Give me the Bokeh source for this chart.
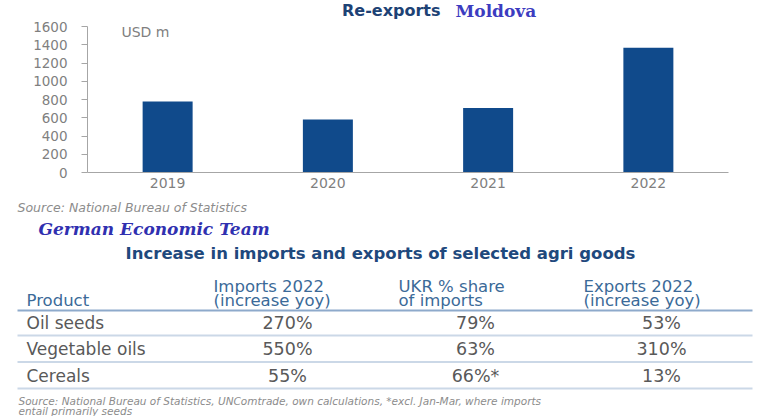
from bokeh.plotting import figure
from bokeh.layouts import column, row
from bokeh.models import Range1d, FactorRange, FixedTicker, ColumnDataSource, Label
from bokeh.core.properties import value
from bokeh.embed import file_html
from bokeh.resources import INLINE

# ---------------- data ----------------
years = ["2019", "2020", "2021", "2022"]
reexports = [778, 580, 708, 1366]
y_ticks = [0, 200, 400, 600, 800, 1000, 1200, 1400, 1600]

title_main = "Re-exports"
title_country = "Moldova"
unit_label = "USD m"
chart_source = "Source: National Bureau of Statistics"
team = "German Economic Team"

table_title = "Increase in imports and exports of selected agri goods"
header_line1 = ["", "Imports 2022", "UKR % share", "Exports 2022"]
header_line2 = ["Product", "(increase yoy)", "of imports", "(increase yoy)"]
products = ["Oil seeds", "Vegetable oils", "Cereals"]
imports_2022 = ["270%", "550%", "55%"]
ukr_share = ["79%", "63%", "66%*"]
exports_2022 = ["53%", "310%", "13%"]
footnote = ["Source: National Bureau of Statistics, UNComtrade, own calculations, *excl. Jan-Mar, where imports",
            "entail primarily seeds"]

# ---------------- layout constants ----------------
W = 768
SANS = value("DejaVu Sans")
SERIF = value("DejaVu Serif")


def blank(height):
    f = figure(width=W, height=height, x_range=Range1d(0, W), y_range=Range1d(height, 0),
               x_axis_type=None, y_axis_type=None, output_backend="svg", toolbar_location=None,
               min_border=0, outline_line_color=None)
    f.grid.visible = False
    return f


# ---- title strip ----
T_H = 20
t = blank(T_H)
t.text(x=[440], y=[10], text=[title_main], text_font=SANS, text_font_style="bold",
       text_font_size="16px", text_color="#1d4275", text_align="right", text_baseline="middle")
t.text(x=[455], y=[10], text=[title_country], text_font=SERIF, text_font_style="bold",
       text_font_size="17px", text_color="#3c3cc0", text_align="left", text_baseline="middle")

# ---- bar chart ----
A_H = 176
a = figure(width=W, height=A_H, x_range=FactorRange(*years), y_range=Range1d(0, 1600),
           output_backend="svg", toolbar_location=None,
           min_border_left=87, min_border_right=40, min_border_top=6, min_border_bottom=24,
           outline_line_color=None)
a.vbar(x=years, top=reexports, width=0.312, fill_color="#104a8b", line_color=None)
a.xgrid.grid_line_color = None
a.ygrid.grid_line_color = None

a.yaxis.ticker = FixedTicker(ticks=y_ticks)
a.yaxis.axis_line_color = "#a6a6a6"
a.yaxis.major_tick_line_color = "#a6a6a6"
a.yaxis.major_tick_in = 0
a.yaxis.major_tick_out = 6
a.yaxis.minor_tick_line_color = None
a.yaxis.major_label_standoff = 14
a.yaxis.major_label_text_font = "DejaVu Sans"
a.yaxis.major_label_text_font_size = "13.5px"
a.yaxis.major_label_text_color = "#7f7f7f"

a.xaxis.axis_line_color = "#a6a6a6"
a.xaxis.major_tick_line_color = None
a.xaxis.minor_tick_line_color = None
a.xaxis.major_tick_in = 0
a.xaxis.major_tick_out = 0
a.xaxis.major_label_standoff = 5
a.xaxis.major_label_text_font = "DejaVu Sans"
a.xaxis.major_label_text_font_size = "14px"
a.xaxis.major_label_text_color = "#7f7f7f"

a.add_layout(Label(x=0.212, y=1535, text=unit_label, text_font="DejaVu Sans", text_font_size="14px",
                   text_color="#7f7f7f", text_align="left", text_baseline="middle"))

# ---- table part ----
B_H = 220
b = blank(B_H)
b.text(x=[17], y=[11], text=[chart_source], text_font=SANS, text_font_style="italic",
       text_font_size="12.5px", text_color="#8c8c8c", text_align="left", text_baseline="middle")
b.text(x=[38], y=[32], text=[team], text_font=SERIF, text_font_style="bold italic",
       text_font_size="17px", text_color="#3030b0", text_align="left", text_baseline="middle")
b.text(x=[380], y=[57], text=[table_title], text_font=SANS, text_font_style="bold",
       text_font_size="16.5px", text_color="#1f497d", text_align="center", text_baseline="middle")

col_start = [26, 213, 398, 583]
val_center = [287, 475, 661]
hdr1_y, hdr2_y = 89.5, 104
hsrc = ColumnDataSource(dict(x=col_start + col_start,
                             y=[hdr1_y] * 4 + [hdr2_y] * 4,
                             text=header_line1 + header_line2))
b.text(x="x", y="y", text="text", source=hsrc, text_font=SANS, text_font_size="16.5px",
       text_color="#3b6a98", text_align="left", text_baseline="middle")

left, right = 17, 752
b.segment(x0=[left], y0=[114], x1=[right], y1=[114], line_color="#8eaacb", line_width=2)

row_y0, row_step = 126, 26.5
row_y = [row_y0 + i * row_step for i in range(len(products))]
line_y = [y + 13 for y in row_y]
b.segment(x0=[left] * len(line_y), y0=line_y, x1=[right] * len(line_y), y1=line_y,
          line_color="#cbd8e7", line_width=2)

b.text(x=[col_start[0]] * len(products), y=row_y, text=products, text_font=SANS,
       text_font_size="17px", text_color="#595959", text_align="left", text_baseline="middle")
for ci, col in enumerate([imports_2022, ukr_share, exports_2022]):
    b.text(x=[val_center[ci]] * len(col), y=row_y, text=col, text_font=SANS,
           text_font_size="17.5px", text_color="#595959", text_align="center", text_baseline="middle")

b.text(x=[18, 18], y=[204.5, 214], text=footnote, text_font=SANS, text_font_style="italic",
       text_font_size="10.5px", text_color="#8c8c8c", text_align="left", text_baseline="middle")

layout = column(t, row(a), b)
open("out.html", "w").write(file_html(layout, INLINE))
